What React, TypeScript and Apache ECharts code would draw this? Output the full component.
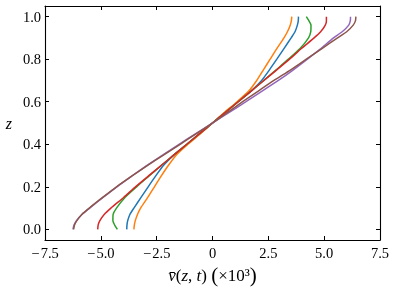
import React, { useEffect, useRef } from "react";
import * as echarts from "echarts";

const zLevels = [0, 0.02, 0.04, 0.07, 0.1, 0.15, 0.2, 0.25, 0.3, 0.35, 0.4, 0.45, 0.5, 0.55, 0.6, 0.65, 0.7, 0.75, 0.8, 0.85, 0.9, 0.93, 0.96, 0.98, 1.0];

const blueV = [-3.84, -3.83, -3.8, -3.7, -3.52, -3.2, -2.88, -2.55, -2.2, -1.72, -1.15, -0.57, 0, 0.57, 1.15, 1.72, 2.2, 2.55, 2.88, 3.2, 3.52, 3.7, 3.8, 3.84, 3.85];
const orangeV = [-3.52, -3.5, -3.46, -3.36, -3.22, -2.9, -2.6, -2.3, -1.98, -1.62, -1.1, -0.54, 0, 0.54, 1.1, 1.62, 1.98, 2.28, 2.58, 2.88, 3.2, 3.36, 3.48, 3.53, 3.55];
const greenV = [-4.26, -4.38, -4.46, -4.45, -4.3, -3.92, -3.4, -2.85, -2.3, -1.73, -1.15, -0.58, 0, 0.58, 1.15, 1.73, 2.3, 2.85, 3.4, 3.92, 4.3, 4.4, 4.41, 4.32, 4.2];
const redV = [-5.14, -5.12, -5.05, -4.85, -4.55, -3.98, -3.45, -2.88, -2.3, -1.73, -1.15, -0.58, 0, 0.58, 1.15, 1.73, 2.3, 2.88, 3.45, 3.98, 4.55, 4.85, 5.05, 5.1, 5.1];
const purpleV = [-6.25, -6.2, -6.1, -5.85, -5.5, -4.9, -4.28, -3.62, -2.95, -2.22, -1.5, -0.75, 0, 0.75, 1.5, 2.22, 2.95, 3.62, 4.25, 4.85, 5.42, 5.82, 6.1, 6.17, 6.18];
const brownV = [-6.22, -6.18, -6.08, -5.85, -5.52, -4.92, -4.3, -3.62, -2.92, -2.18, -1.45, -0.72, 0, 0.68, 1.35, 2.05, 2.75, 3.5, 4.2, 4.9, 5.6, 6.02, 6.3, 6.4, 6.42];

const seriesValues = [blueV, orangeV, greenV, redV, purpleV, brownV];
const seriesColors = ["#1f77b4", "#ff7f0e", "#2ca02c", "#d62728", "#9467bd", "#8c564b"];

const xTicks = [-7.5, -5, -2.5, 0, 2.5, 5, 7.5];
const xTickLabels = ["\u2212\u200a7.5", "\u2212\u200a5.0", "\u2212\u200a2.5", "0", "2.5", "5.0", "7.5"];
const yTicks = [0, 0.2, 0.4, 0.6, 0.8, 1.0];
const yTickLabels = ["0.0", "0.2", "0.4", "0.6", "0.8", "1.0"];

const FONT = "Liberation Serif";

export default function App() {
  const ref = useRef<HTMLDivElement>(null);
  useEffect(() => {
    const chart = echarts.init(ref.current!, null, { renderer: "svg" });
    const axisLine = { show: true, onZero: false, lineStyle: { color: "#000", width: 1.1 } };
    const tick = { show: true, inside: true, length: 4, lineStyle: { color: "#000", width: 1 } };
    const label = { fontFamily: FONT, fontSize: 14.5, color: "#000" };
    chart.setOption({
      animation: false,
      grid: { left: 45, right: 18, top: 6, bottom: 51 },
      xAxis: [
        {
          type: "value", min: -7.5, max: 7.5, interval: 2.5, position: "bottom",
          axisLine, axisTick: tick, splitLine: { show: false },
          axisLabel: {
            ...label, margin: 5, showMinLabel: true, showMaxLabel: true,
            formatter: (v: number) => {
              const i = xTicks.findIndex((t) => Math.abs(t - v) < 1e-6);
              return i >= 0 ? xTickLabels[i] : "";
            },
          },
          name: "{i|v\u0304}({i|z}, {i|t}) {p|(}\u00d710\u00b3{p|)}",
          nameLocation: "middle", nameGap: 24,
          nameTextStyle: {
            fontFamily: FONT, fontSize: 17, color: "#000",
            rich: {
              i: { fontFamily: FONT, fontSize: 17, fontStyle: "italic", color: "#000" },
              p: { fontFamily: FONT, fontSize: 21, color: "#000" },
            },
          },
        },
        {
          type: "value", min: -7.5, max: 7.5, interval: 2.5, position: "top",
          axisLine, axisTick: tick, axisLabel: { show: false }, splitLine: { show: false },
        },
      ],
      yAxis: [
        {
          type: "value", min: -0.05, max: 1.05, position: "left",
          axisLine, splitLine: { show: false },
          axisTick: { ...tick, customValues: yTicks },
          axisLabel: {
            ...label, margin: 4, customValues: yTicks,
            formatter: (v: number) => {
              const i = yTicks.findIndex((t) => Math.abs(t - v) < 1e-6);
              return i >= 0 ? yTickLabels[i] : "";
            },
          },
          name: "z", nameLocation: "middle", nameRotate: 0, nameGap: 33,
          nameTextStyle: { fontFamily: FONT, fontSize: 16, fontStyle: "italic", color: "#000" },
        },
        {
          type: "value", min: -0.05, max: 1.05, position: "right",
          axisLine, splitLine: { show: false },
          axisTick: { ...tick, customValues: yTicks },
          axisLabel: { show: false },
        },
      ],
      series: seriesValues.map((vals, k) => ({
        type: "line",
        xAxisIndex: 0,
        yAxisIndex: 0,
        data: zLevels.map((z, i) => [vals[i], z]),
        smooth: 0.2,
        showSymbol: false,
        symbol: "none",
        lineStyle: { color: seriesColors[k], width: 1.5 },
        itemStyle: { color: seriesColors[k] },
      })),
    });
    return () => chart.dispose();
  }, []);
  return <div ref={ref} style={{ position: "fixed", left: 0, top: 0, width: 398, height: 291 }} />;
}
